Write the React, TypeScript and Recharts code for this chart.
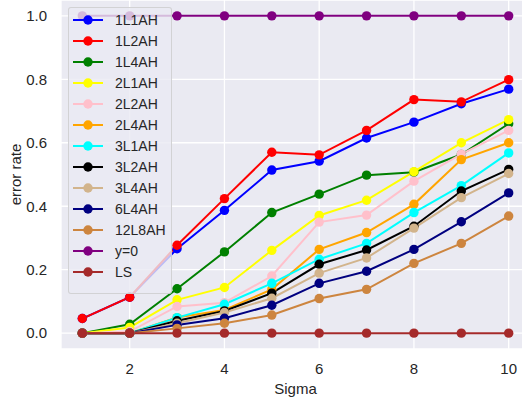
import { LineChart, Line, XAxis, YAxis, CartesianGrid, Legend } from "recharts"

const sigma = [1, 2, 3, 4, 5, 6, 7, 8, 9, 10]

const l1ah1 = [0.046, 0.113, 0.266, 0.387, 0.514, 0.542, 0.615, 0.665, 0.723, 0.769]
const l1ah2 = [0.046, 0.113, 0.277, 0.424, 0.57, 0.562, 0.639, 0.736, 0.729, 0.799]
const l1ah4 = [0, 0.028, 0.14, 0.256, 0.38, 0.438, 0.498, 0.507, 0.563, 0.66]
const l2ah1 = [0, 0.018, 0.105, 0.144, 0.261, 0.371, 0.419, 0.509, 0.6, 0.673]
const l2ah2 = [0, 0.005, 0.084, 0.096, 0.18, 0.35, 0.372, 0.479, 0.564, 0.639]
const l2ah4 = [0, 0, 0.049, 0.073, 0.138, 0.264, 0.317, 0.406, 0.547, 0.6]
const l3ah1 = [0, 0, 0.049, 0.091, 0.157, 0.233, 0.283, 0.38, 0.465, 0.568]
const l3ah2 = [0, 0, 0.039, 0.07, 0.126, 0.217, 0.262, 0.337, 0.448, 0.516]
const l3ah4 = [0, 0, 0.031, 0.065, 0.11, 0.189, 0.237, 0.331, 0.427, 0.503]
const l6ah4 = [0, 0, 0.026, 0.047, 0.088, 0.157, 0.195, 0.264, 0.351, 0.442]
const l12ah8 = [0, 0, 0.015, 0.031, 0.057, 0.109, 0.138, 0.22, 0.283, 0.369]
const yZero = [1, 1, 1, 1, 1, 1, 1, 1, 1, 1]
const ls = [0, 0, 0, 0, 0, 0, 0, 0, 0, 0]

const xTicks = [2, 4, 6, 8, 10]
const yTicks = [0, 0.2, 0.4, 0.6, 0.8, 1.0]

const series = [
  { key: "1L1AH", values: l1ah1, color: "#0000FF" },
  { key: "1L2AH", values: l1ah2, color: "#FF0000" },
  { key: "1L4AH", values: l1ah4, color: "#008000" },
  { key: "2L1AH", values: l2ah1, color: "#FFFF00" },
  { key: "2L2AH", values: l2ah2, color: "#FFC0CB" },
  { key: "2L4AH", values: l2ah4, color: "#FFA500" },
  { key: "3L1AH", values: l3ah1, color: "#00FFFF" },
  { key: "3L2AH", values: l3ah2, color: "#000000" },
  { key: "3L4AH", values: l3ah4, color: "#D2B48C" },
  { key: "6L4AH", values: l6ah4, color: "#000080" },
  { key: "12L8AH", values: l12ah8, color: "#CD853F" },
  { key: "y=0", values: yZero, color: "#800080" },
  { key: "LS", values: ls, color: "#A52A2A" },
]

const data = sigma.map((s, i) => {
  const row: Record<string, number> = { sigma: s }
  series.forEach((sr) => {
    row[sr.key] = sr.values[i]
  })
  return row
})

const textColor = "#262626"
const font = "'Liberation Sans', Arial, sans-serif"

function LegendBox() {
  return (
    <div
      style={{
        boxSizing: "border-box",
        width: 104,
        height: 287,
        paddingTop: 2,
        background: "rgba(234,234,242,0.8)",
        border: "1px solid rgba(204,204,204,0.8)",
        borderRadius: 3,
        fontFamily: font,
        fontSize: 14,
        color: textColor,
      }}
    >
      {series.map((sr) => (
        <div key={sr.key} style={{ height: 20.95, display: "flex", alignItems: "center" }}>
          <svg width={30} height={12} style={{ marginLeft: 4, marginRight: 12 }}>
            <line x1={0} y1={6} x2={30} y2={6} stroke={sr.color} strokeWidth={2} />
            <circle cx={15} cy={6} r={4.7} fill={sr.color} />
          </svg>
          <span>{sr.key}</span>
        </div>
      ))}
    </div>
  )
}

function YLabel() {
  return (
    <text
      x={15}
      y={174.5}
      transform="rotate(-90 15 174.5)"
      textAnchor="middle"
      dominantBaseline="central"
      fill={textColor}
      fontSize={15}
      fontFamily={font}
    >
      error rate
    </text>
  )
}

export default function App() {
  return (
    <div
      style={{
        position: "absolute",
        left: 0,
        top: 0,
        width: 522,
        height: 397,
        overflow: "hidden",
        background: "#fff",
      }}
    >
      <LineChart
        width={531}
        height={397}
        data={data}
        margin={{ top: 0, right: 1, bottom: 0, left: 0 }}
        style={{ fontFamily: font }}
      >
        <CartesianGrid fill="#EAEAF2" stroke="#FFFFFF" strokeWidth={1.3} />
        <XAxis
          dataKey="sigma"
          type="number"
          domain={[0.55, 10.45]}
          ticks={xTicks}
          allowDataOverflow
          height={48}
          tickLine={false}
          axisLine={false}
          tickMargin={8}
          tick={{ fill: textColor, fontSize: 15 }}
          label={{ value: "Sigma", position: "insideBottom", offset: 3.5, fill: textColor, fontSize: 15 }}
        />
        <YAxis
          type="number"
          domain={[-0.05, 1.05]}
          ticks={yTicks}
          allowDataOverflow
          width={61}
          tickLine={false}
          axisLine={false}
          tickMargin={8}
          tickFormatter={(v: number) => v.toFixed(1)}
          tick={{ fill: textColor, fontSize: 15 }}
          label={<YLabel />}
        />
        {series.map((sr) => (
          <Line
            key={sr.key}
            dataKey={sr.key}
            stroke={sr.color}
            strokeWidth={2}
            dot={{ r: 4.7, fill: sr.color, stroke: "none" }}
            activeDot={false}
            isAnimationActive={false}
          />
        ))}
        <Legend
          layout="vertical"
          align="center"
          verticalAlign="middle"
          content={() => <LegendBox />}
          wrapperStyle={{ left: 68, top: 7, width: 104, height: 287 }}
        />
      </LineChart>
    </div>
  )
}
